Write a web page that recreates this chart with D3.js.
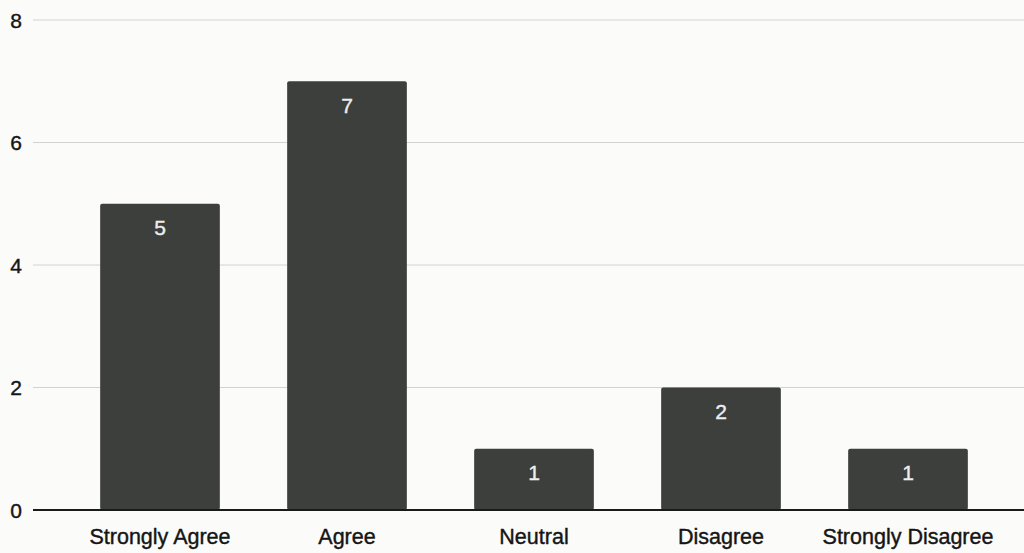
<!DOCTYPE html>
<html>
<head>
<meta charset="utf-8">
<script src="https://cdn.jsdelivr.net/npm/d3@7"></script>
<style>
  html, body { margin: 0; padding: 0; background: #fbfbfa; }
  svg { display: block; }
</style>
</head>
<body>
<svg id="chart" width="1024" height="553"></svg>
<script>
const categories = ["Strongly Agree", "Agree", "Neutral", "Disagree", "Strongly Disagree"];
const values = [5, 7, 1, 2, 1];
const yTicks = [0, 2, 4, 6, 8];

const W = 1024, H = 553;
const svg = d3.select("#chart");
const font = "'Liberation Sans', Arial, sans-serif";

const x = d3.scaleBand().domain(categories).range([66.5, 1001.5]).paddingInner(0.36).paddingOuter(0.18);
const y = d3.scaleLinear().domain([0, 8]).range([510, 20]);

svg.append("rect").attr("width", W).attr("height", H).attr("fill", "#fbfbfa");

// gridlines
svg.append("g").selectAll("line").data(yTicks.filter(d => d > 0)).join("line")
  .attr("x1", 33).attr("x2", W)
  .attr("y1", d => y(d)).attr("y2", d => y(d))
  .attr("stroke", "#d2d2d2").attr("stroke-width", 1);

// y tick labels
svg.append("g").selectAll("text").data(yTicks).join("text")
  .attr("x", 22).attr("y", d => y(d)).attr("dy", "0.36em")
  .attr("text-anchor", "end")
  .attr("font-family", font).attr("font-size", 21).attr("fill", "#151515")
  .attr("stroke", "#151515").attr("stroke-width", 0.4)
  .text(d => d);

// bars
svg.append("g").selectAll("rect").data(values).join("rect")
  .attr("x", (d, i) => x(categories[i]))
  .attr("width", x.bandwidth())
  .attr("y", d => y(d))
  .attr("height", d => y(0) - y(d))
  .attr("rx", 2)
  .attr("fill", "#3c3f3b");

// value labels
svg.append("g").selectAll("text").data(values).join("text")
  .attr("x", (d, i) => x(categories[i]) + x.bandwidth() / 2)
  .attr("y", d => y(d) + 24).attr("dy", "0.36em")
  .attr("text-anchor", "middle")
  .attr("font-family", font).attr("font-size", 21).attr("fill", "#eeeeee")
  .attr("stroke", "#eeeeee").attr("stroke-width", 0.4)
  .text(d => d);

// x axis line
svg.append("line").attr("x1", 33).attr("x2", W).attr("y1", y(0)).attr("y2", y(0))
  .attr("stroke", "#1a1a1a").attr("stroke-width", 2);

// category labels
svg.append("g").selectAll("text").data(categories).join("text")
  .attr("x", d => x(d) + x.bandwidth() / 2)
  .attr("y", 544)
  .attr("text-anchor", "middle")
  .attr("font-family", font).attr("font-size", 21.5).attr("fill", "#151515")
  .attr("stroke", "#151515").attr("stroke-width", 0.4)
  .text(d => d);
</script>
</body>
</html>
